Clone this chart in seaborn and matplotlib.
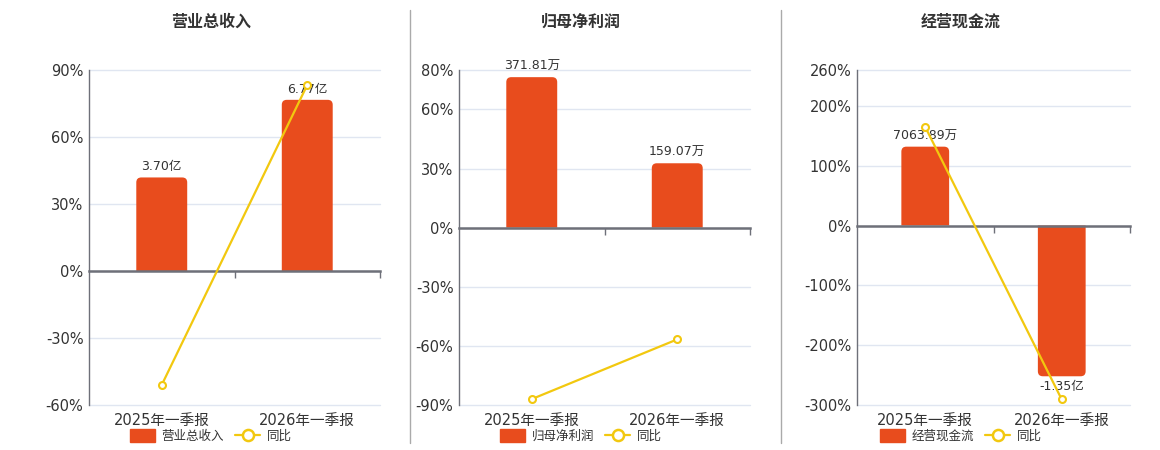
import matplotlib
matplotlib.use("Agg")
import matplotlib.pyplot as plt
import seaborn as sns
from matplotlib.patches import Patch, PathPatch
from matplotlib.path import Path
from matplotlib.lines import Line2D
from matplotlib.ticker import FixedLocator

sns.set_style("white")
plt.rcParams['font.family'] = ['DejaVu Sans', 'Noto Sans CJK SC']

# ---------------- data ----------------
categories = ["2025年一季报", "2026年一季报"]

titles = ["营业总收入", "归母净利润", "经营现金流"]

# values in 万元
revenue_values = [37000.0, 67700.0]
profit_values = [371.81, 159.07]
cashflow_values = [7063.89, -13500.0]

# year-on-year growth, %
revenue_yoy = [-51.0, 83.3]
profit_yoy = [-87.0, -56.7]
cashflow_yoy = [164.7, -290.8]

revenue_ticks = [90, 60, 30, 0, -30, -60]
profit_ticks = [80, 60, 30, 0, -30, -60, -90]
cashflow_ticks = [260, 200, 100, 0, -100, -200, -300]

legend_yoy = "同比"

# ---------------- style ----------------
BAR_COLOR = "#E84C1D"
LINE_COLOR = "#F2C80F"
AXIS_COLOR = "#6E7079"
GRID_COLOR = "#E0E6F1"
TEXT_COLOR = "#333333"
CORNER_PX = 5

W, H = 1160, 450
fig = plt.figure(figsize=(W / 100, H / 100), dpi=100)


def fmt_amount(v):
    if abs(v) >= 10000:
        return f"{v / 10000:.2f}亿"
    return f"{v:.2f}万"


def round_bars(ax):
    """Replace the seaborn bar rectangles with ones whose far end is rounded."""
    (px0, py0), (px1, py1) = ax.transData.transform([(0, 0), (1, 1)])
    rx = CORNER_PX / abs(px1 - px0)
    ry = CORNER_PX / abs(py1 - py0)
    for bar in list(ax.patches):
        x0, w = bar.get_x(), bar.get_width()
        base, end = bar.get_y(), bar.get_y() + bar.get_height()
        s = 1 if end >= base else -1
        r_y = min(ry, abs(end - base)) * s
        verts = [(x0, base), (x0, end - r_y), (x0, end), (x0 + rx, end),
                 (x0 + w - rx, end), (x0 + w, end), (x0 + w, end - r_y),
                 (x0 + w, base), (x0, base)]
        codes = [Path.MOVETO, Path.LINETO, Path.CURVE3, Path.CURVE3, Path.LINETO,
                 Path.CURVE3, Path.CURVE3, Path.LINETO, Path.CLOSEPOLY]
        pp = PathPatch(Path(verts, codes), facecolor=bar.get_facecolor(),
                       edgecolor='none', zorder=bar.get_zorder())
        ax.add_patch(pp)
        bar.set_visible(False)


panels = [
    dict(title=titles[0], vals=revenue_values, yoy=revenue_yoy, ticks=revenue_ticks,
         left=89, right=380, center=211, bar_top=79500.0),
    dict(title=titles[1], vals=profit_values, yoy=profit_yoy, ticks=profit_ticks,
         left=459, right=750, center=581, bar_top=389.5),
    dict(title=titles[2], vals=cashflow_values, yoy=cashflow_yoy, ticks=cashflow_ticks,
         left=857, right=1130, center=961, bar_top=13930.0),
]

top_px, bottom_px = 70, 405

for p in panels:
    rect = [p["left"] / W, 1 - bottom_px / H, (p["right"] - p["left"]) / W,
            (bottom_px - top_px) / H]
    ax_bar = fig.add_axes(rect)
    ax_line = ax_bar.twinx()
    ax_line.set_zorder(ax_bar.get_zorder() + 1)
    ax_line.patch.set_visible(False)

    hi, lo = max(p["ticks"]), min(p["ticks"])
    k = p["bar_top"] / hi

    sns.barplot(x=categories, y=p["vals"], ax=ax_bar, color=BAR_COLOR,
                saturation=1, width=0.35, zorder=2)
    ax_bar.set_ylim(lo * k, hi * k)
    ax_bar.set_yticks([t * k for t in p["ticks"]])
    ax_bar.yaxis.grid(True, color=GRID_COLOR, linewidth=1)
    for gl in ax_bar.get_ygridlines():
        gl.set_clip_on(False)
    ax_bar.set_axisbelow(True)
    ax_bar.tick_params(axis='y', left=False, right=False, labelleft=False, labelright=False)
    for s in ax_bar.spines.values():
        s.set_visible(False)
    ax_bar.set_xlim(-0.5, 1.5)
    ax_bar.xaxis.set_minor_locator(FixedLocator([0.5, 1.5]))
    ax_bar.tick_params(axis='x', which='major', length=0, labelsize=10.5,
                       labelcolor=TEXT_COLOR, pad=6)
    ax_bar.tick_params(axis='x', which='minor', length=0)
    ax_bar.set_xlabel("")
    ax_bar.set_ylabel("")

    labels = [fmt_amount(v) for v in p["vals"]]
    ax_bar.bar_label(ax_bar.containers[0], labels=labels, padding=3,
                     fontsize=9, color=TEXT_COLOR)
    round_bars(ax_bar)

    sns.lineplot(x=categories, y=p["yoy"], ax=ax_line, color=LINE_COLOR,
                 linewidth=1.6, marker='o', markersize=5, markerfacecolor='white',
                 markeredgecolor=LINE_COLOR, markeredgewidth=1.5, zorder=4)
    ax_line.set_ylim(lo, hi)
    ax_line.set_yticks(p["ticks"])
    ax_line.set_yticklabels([f"{t}%" for t in p["ticks"]])
    ax_line.yaxis.tick_left()
    ax_line.tick_params(axis='y', length=0, labelsize=10.5, labelcolor=TEXT_COLOR, pad=4)
    ax_line.set_ylabel("")
    ax_line.xaxis.set_visible(True)
    ax_line.spines['bottom'].set_position(('data', 0))
    ax_line.spines['bottom'].set_color(AXIS_COLOR)
    ax_line.spines['bottom'].set_linewidth(1.8)
    ax_line.spines['bottom'].set_zorder(3)
    ax_line.spines['left'].set_color(AXIS_COLOR)
    ax_line.spines['left'].set_linewidth(1)
    ax_line.spines['top'].set_visible(False)
    ax_line.spines['right'].set_visible(False)
    ax_line.tick_params(axis='x', which='major', bottom=False, length=0, labelbottom=False)
    ax_line.tick_params(axis='x', which='minor', bottom=True, top=False, length=5,
                        width=1, color=AXIS_COLOR, direction='out')
    ax_line.set_xlim(-0.5, 1.5)
    if ax_line.get_legend():
        ax_line.get_legend().remove()

    fig.text(p["center"] / W, 1 - 22 / H, p["title"], ha='center', va='center',
             fontsize=11.5, fontweight='bold', color=TEXT_COLOR)

    handles = [Patch(facecolor=BAR_COLOR, edgecolor=BAR_COLOR),
               Line2D([0], [0], color=LINE_COLOR, lw=1.6, marker='o', markersize=8,
                      markerfacecolor='white', markeredgecolor=LINE_COLOR,
                      markeredgewidth=1.8)]
    fig.legend(handles, [p["title"], legend_yoy], loc='center',
               bbox_to_anchor=(p["center"] / W, 1 - 436 / H), ncol=2, frameon=False,
               fontsize=9, handlelength=2.0, handleheight=1.2, columnspacing=0.9,
               handletextpad=0.5, labelcolor=TEXT_COLOR)

# dividers between panels
for xpx in (410, 781):
    fig.add_artist(Line2D([xpx / W, xpx / W], [1 - 10 / H, 1 - 443 / H],
                          transform=fig.transFigure, color="#AAAAAA", lw=1))

fig.savefig("out.png", dpi=100, facecolor='white')
